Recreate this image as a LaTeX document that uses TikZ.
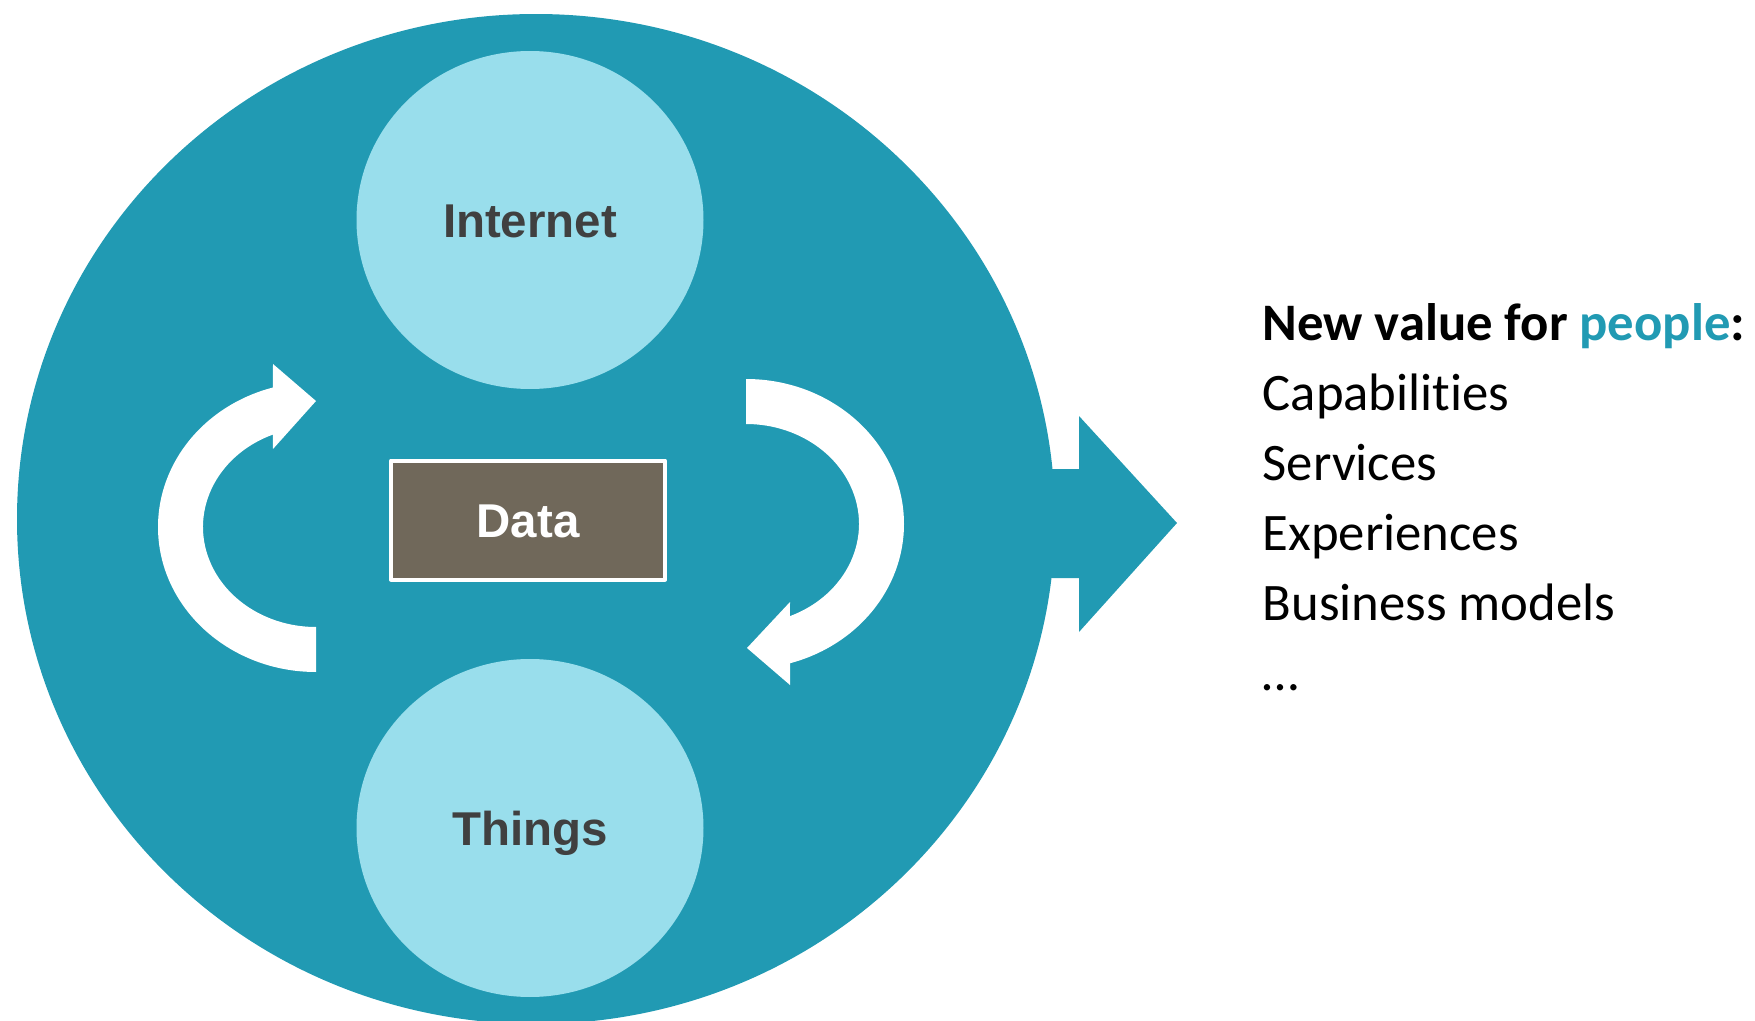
\documentclass[tikz,border=0pt]{standalone}
\usepackage{fontspec}
\setmainfont{Carlito}[Ligatures=NoCommon]
\newfontfamily\labelfont{Liberation Sans}
\usetikzlibrary{calc}
\usetikzlibrary{shapes.geometric}
\definecolor{iotteal}{RGB}{33,154,179}
\definecolor{iotsky}{RGB}{153,222,236}
\definecolor{datagrey}{RGB}{112,104,90}
\definecolor{labelgrey}{RGB}{64,64,64}
\tikzset{
  bubble/.style={ellipse,fill=iotsky,inner sep=0pt,minimum width=34.7mm,minimum height=33.8mm,
    font=\labelfont\bfseries\fontsize{13.5}{16}\selectfont,text=labelgrey,text height=3.4mm,text depth=0pt},
  databox/.style={rectangle,fill=datagrey,draw=white,line width=0.4mm,inner sep=0pt,
    minimum width=27.4mm,minimum height=11.9mm,
    font=\labelfont\bfseries\fontsize{13.5}{16}\selectfont,text=white,text height=3.4mm,text depth=0pt},
  valuetext/.style={anchor=base west,inner sep=0pt,font=\fontsize{15}{18}\selectfont,text=black}
}

\begin{document}
\begin{tikzpicture}[x=0.1mm,y=-0.1mm,join=round]
\clip (0,0) rectangle (1755,1021);
\fill[iotteal] (536,519) ellipse [x radius=519, y radius=505];
\fill[iotteal] (1030,469)--(1079,469)--(1079,416)--(1177,523)--(1079,632)--(1079,578)--(1030,578)--cycle;
\node[bubble] (internet) at (530,220) {Internet};
\node[bubble] (things) at (530,828) {Things};
\node[databox] (data) at (528,520) {Data};
\coordinate (leftturn) at (316,527);
\coordinate (rightturn) at (746,524);
\fill[white] ($(leftturn)+(90:158 and 145)$) arc[start angle=90,end angle=254.2,x radius=158,y radius=145]
  --(273,364)--(316,401)--(273,449)
  --($(leftturn)+(247.6:113 and 100)$) arc[start angle=247.6,end angle=90,x radius=113,y radius=100]--cycle;
\fill[white] ($(rightturn)+(270:158 and 145)$) arc[start angle=270,end angle=433.8,x radius=158,y radius=145]
  --(790,685)--(747,648)--(790,602)
  --($(rightturn)+(427.1:113 and 100)$) arc[start angle=427.1,end angle=270,x radius=113,y radius=100]--cycle;
\node[valuetext] (newvalue) at (1262,340) {\bfseries New value for \textcolor{iotteal}{people}:};
\foreach \txt [count=\i] in {Capabilities,Services,Experiences,Business models,…}
  \node[valuetext] (value\i) at (1262,{340+70*\i}) {\txt};
\end{tikzpicture}
\end{document}
